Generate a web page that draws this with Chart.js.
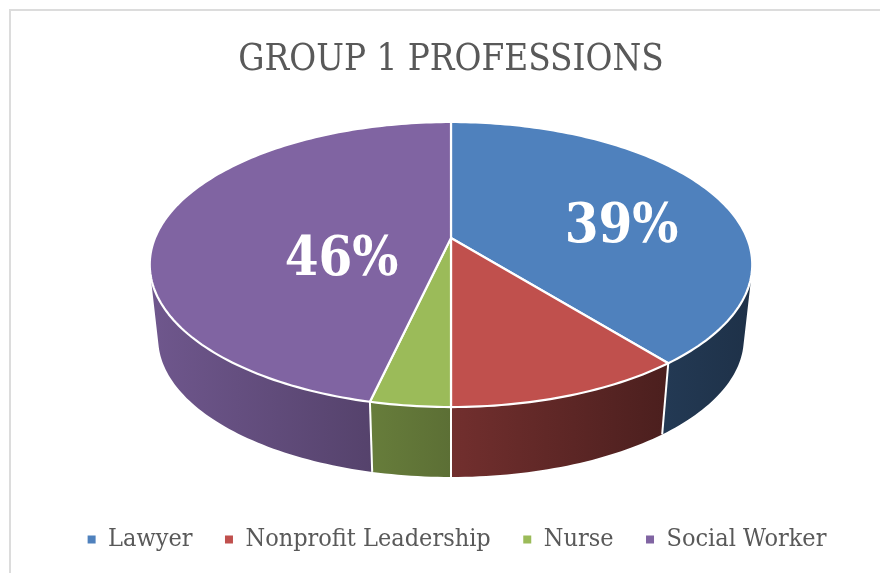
<!DOCTYPE html>
<html>
<head>
<meta charset="utf-8">
<title>Group 1 Professions</title>
<script src="https://cdn.jsdelivr.net/npm/chart.js@4"></script>
<style>
  html, body { margin: 0; padding: 0; background: #fff; }
  #frame { position: absolute; left: 9px; top: 9px; right: 0; bottom: 0; border-left: 2px solid #dcdcdc; border-top: 2px solid #dcdcdc; }
  #resultsChart { position: absolute; left: 0; top: 0; }
</style>
</head>
<body>
<div id="frame"></div>
<canvas id="resultsChart" width="880" height="573"></canvas>
<script>
const categories = ["Lawyer", "Nonprofit Leadership", "Nurse", "Social Worker"];
const shares = [39.2, 10.8, 3.6, 46.4];
const colors = ["#4F81BD", "#C0504D", "#9BBB59", "#8064A2"];
const labelled = [true, false, false, true];

const serif = "'DejaVu Serif Condensed', 'DejaVu Serif', serif";

// the tilted disc: perspective p, top face and the smaller bottom face
const view = { a: 296, b: 137.6, p: 0.186, topY: 238, bottomY: 312.7, shrink: 0.972 };
const labelSpots = [{ r: 0.635, dy: 18 }, null, null, { r: 0.375, dy: 29 }];

function project(cx, angle, r, bottom) {
  const u = Math.cos(angle) * r;
  const v = Math.sin(angle) * r;
  const w = 1 - view.p * v;
  const k = bottom ? view.shrink : 1;
  return {
    x: cx + k * view.a * u / w,
    y: (bottom ? view.bottomY : view.topY) + k * view.b * v / w
  };
}

function rimPoints(el, bottom) {
  const pts = [];
  const steps = Math.max(4, Math.ceil((el.endAngle - el.startAngle) / 0.02));
  for (let i = 0; i <= steps; i++) {
    const angle = el.startAngle + (el.endAngle - el.startAngle) * i / steps;
    pts.push(project(el.x, angle, 1, bottom));
  }
  return pts;
}

function tracePath(ctx, pts) {
  pts.forEach((pt, i) => i ? ctx.lineTo(pt.x, pt.y) : ctx.moveTo(pt.x, pt.y));
  ctx.closePath();
}

function signedArea(pts) {
  return pts.reduce((sum, pt, i) => {
    const next = pts[(i + 1) % pts.length];
    return sum + pt.x * next.y - next.x * pt.y;
  }, 0);
}

// side wall gets darker going left to right
function wallShade(x) {
  return Math.max(0.38, Math.min(0.87, 0.87 - (x - 150) * 0.00092));
}

function darken(hex, f) {
  const n = parseInt(hex.slice(1), 16);
  return `rgb(${Math.round((n >> 16) * f)},${Math.round(((n >> 8) & 255) * f)},${Math.round((n & 255) * f)})`;
}

const tiltedPie = {
  id: "tiltedPie",
  // chart.js centres the legend in the padded box, the original sits a bit further right
  afterLayout(chart) {
    chart.legend.left += 6;
    chart.legend.right += 6;
  },
  beforeDatasetsDraw(chart) {
    const ctx = chart.ctx;
    const arcs = chart.getDatasetMeta(0).data;
    ctx.save();
    ctx.lineJoin = "round";

    arcs.forEach((el, i) => {
      const top = rimPoints(el, false);
      const low = rimPoints(el, true);
      const xs = low.map(pt => pt.x).concat(top.map(pt => pt.x));
      const x0 = Math.min(...xs);
      const x1 = Math.max(...xs);
      const grad = ctx.createLinearGradient(x0, 0, x1, 0);
      grad.addColorStop(0, darken(colors[i], wallShade(x0)));
      grad.addColorStop(1, darken(colors[i], wallShade(x1)));
      // all quads in one path and wound the same way, so no seams and no holes at the fold
      ctx.beginPath();
      for (let s = 0; s < top.length - 1; s++) {
        const quad = [top[s], top[s + 1], low[s + 1], low[s]];
        tracePath(ctx, signedArea(quad) < 0 ? quad.reverse() : quad);
      }
      ctx.fillStyle = grad;
      ctx.fill("nonzero");
    });

    ctx.strokeStyle = "#ffffff";
    arcs.forEach(el => {
      const top = project(el.x, el.startAngle, 1, false);
      const low = project(el.x, el.startAngle, 1, true);
      ctx.beginPath();
      ctx.moveTo(top.x, top.y);
      ctx.lineTo(low.x, low.y);
      ctx.lineWidth = 2;
      ctx.stroke();
    });

    arcs.forEach((el, i) => {
      ctx.beginPath();
      tracePath(ctx, [project(el.x, 0, 0, false)].concat(rimPoints(el, false)));
      ctx.fillStyle = colors[i];
      ctx.fill();
      ctx.lineWidth = 2.2;
      ctx.stroke();
    });

    ctx.fillStyle = "#ffffff";
    ctx.font = "bold 54px " + serif;
    ctx.textAlign = "center";
    ctx.textBaseline = "middle";
    arcs.forEach((el, i) => {
      if (!labelled[i]) return;
      const spot = labelSpots[i];
      const mid = (el.startAngle + el.endAngle) / 2;
      const pt = project(el.x, mid, spot.r, false);
      ctx.fillText(Math.round(shares[i]) + "%", pt.x, pt.y + spot.dy);
    });
    ctx.restore();
    return false;
  }
};

new Chart(document.getElementById("resultsChart"), {
  type: "pie",
  data: {
    labels: categories,
    datasets: [{ data: shares, backgroundColor: colors, borderWidth: 0 }]
  },
  plugins: [tiltedPie],
  options: {
    responsive: false,
    animation: false,
    layout: { padding: { left: 22, bottom: 11 } },
    plugins: {
      tooltip: { enabled: false },
      title: {
        display: true,
        text: "GROUP 1 PROFESSIONS",
        color: "#595959",
        font: { family: serif, size: 36.5, weight: "normal" },
        padding: { top: 39, bottom: 10 }
      },
      legend: {
        position: "bottom",
        labels: {
          boxWidth: 8,
          boxHeight: 8,
          padding: 32.5,
          color: "#595959",
          font: { family: serif, size: 25 }
        }
      }
    }
  }
});
</script>
</body>
</html>
